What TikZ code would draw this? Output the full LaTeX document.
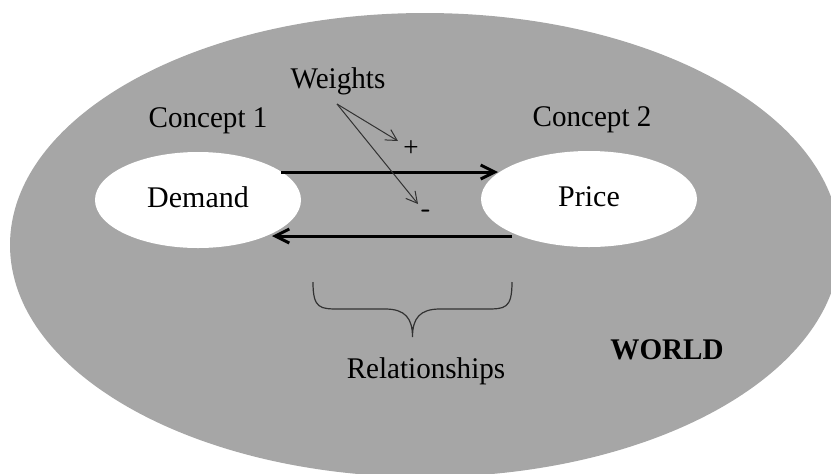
\documentclass[tikz,border=0pt]{standalone}
\usepackage{fontspec}
\setmainfont{Liberation Serif}
\usetikzlibrary{shapes.geometric,arrows.meta}
\definecolor{worldgray}{RGB}{166,166,166}
\definecolor{thinline}{RGB}{50,50,50}
\tikzset{
  lbl/.style={font=\fontsize{15}{18}\selectfont, inner sep=0pt, text=black, xscale=0.97},
  baselbl/.style={lbl, anchor=base},
  concept/.style={ellipse, fill=white, draw=none, inner sep=0pt, font=\fontsize{15}{18}\selectfont},
  relarrow/.style={line width=1.5pt, -{Straight Barb[length=7pt,width=7pt]}},
  weightarrow/.style={thinline, line width=0.5pt, -{Straight Barb[length=5.5pt,width=6pt]}},
  bracestyle/.style={thinline, line width=0.6pt}
}
\begin{document}
\begin{tikzpicture}[x=0.5pt,y=-0.5pt]
  \useasboundingbox (0,0) rectangle (831,473);
  \clip (0,0) rectangle (831,473);
  % the world
  \fill[worldgray] (425,245) ellipse [x radius=207.5pt, y radius=116pt];

  % concepts
  \node[concept, minimum width=103pt, minimum height=48pt] (demand) at (198,200) {\raisebox{2.5pt}{Demand}};
  \node[concept, minimum width=108pt, minimum height=48pt] (price) at (589,199) {\raisebox{2.5pt}{Price}};
  \node[baselbl] (c1) at (208,127.5) {Concept 1};
  \node[baselbl] (c2) at (592,126.5) {Concept 2};

  % relationships between the concepts
  \coordinate (dOut) at (281,172);
  \coordinate (pIn) at (498,172);
  \coordinate (pOut) at (512,236);
  \coordinate (dIn) at (272,236);
  \draw[relarrow] (dOut) -- (pIn);
  \draw[relarrow] (pOut) -- (dIn);

  % weights
  \node[baselbl] (weights) at (338,88) {Weights};
  \coordinate (wRoot) at (337,104);
  \coordinate (plusTip) at (398,141);
  \coordinate (minusTip) at (418,204);
  \draw[weightarrow] (wRoot) -- (plusTip);
  \draw[weightarrow] (wRoot) -- (minusTip);
  \node[lbl, font=\fontsize{14}{16}\selectfont] (plus) at (411,149) {+};
  \node[lbl, font=\fontsize{14}{17}\selectfont\sffamily\bfseries] (minus) at (426,214) {-};

  % brace under the relationships
  \coordinate (bL) at (313,282);
  \coordinate (bTip) at (412.5,337);
  \coordinate (bR) at (512,282);
  \draw[bracestyle] (bL) .. controls (313,309) and (320,309) .. (340,309)
    -- (385,309) .. controls (405,309) and (412.5,318) .. (bTip)
    .. controls (412.5,318) and (420,309) .. (440,309)
    -- (485,309) .. controls (505,309) and (512,309) .. (bR);
  \node[baselbl] (rel) at (426,378) {Relationships};

  \node[baselbl, font=\fontsize{15}{18}\selectfont\bfseries] (world) at (667,359) {WORLD};
\end{tikzpicture}
\end{document}
